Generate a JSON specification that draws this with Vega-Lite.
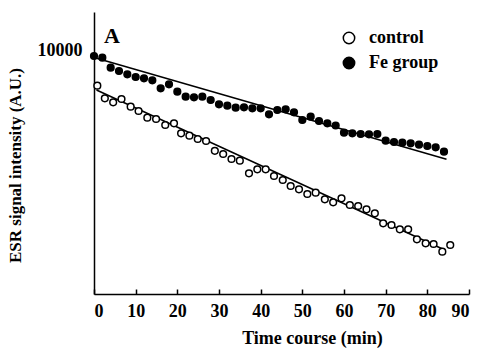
{
 "$schema": "https://vega.github.io/schema/vega-lite/v6.json",
 "width": 375, "height": 282,
 "autosize": {"type": "none"},
 "padding": {"left": 94, "top": 12, "right": 12, "bottom": 55},
 "background": "white",
 "config": {
  "view": {"stroke": null},
  "font": "Liberation Serif, Times New Roman, serif",
  "axis": {"domainColor": "black", "domainWidth": 1.5, "tickColor": "black", "tickWidth": 1.5,
           "labelFont": "Liberation Serif, Times New Roman, serif", "labelFontWeight": "bold", "labelColor": "black",
           "titleFont": "Liberation Serif, Times New Roman, serif", "titleFontWeight": "bold", "titleColor": "black", "grid": false}
 },
 "datasets": {
  "points": [
   {"series":"Fe group","t":0,"v":9752},{"series":"Fe group","t":2,"v":9704},{"series":"Fe group","t":4,"v":9420},{"series":"Fe group","t":6,"v":9326},{"series":"Fe group","t":8,"v":9233},{"series":"Fe group","t":10,"v":9156},{"series":"Fe group","t":12,"v":9119},{"series":"Fe group","t":14,"v":9062},{"series":"Fe group","t":16,"v":8835},{"series":"Fe group","t":18,"v":8949},{"series":"Fe group","t":20,"v":8739},{"series":"Fe group","t":22,"v":8597},{"series":"Fe group","t":24,"v":8580},{"series":"Fe group","t":26,"v":8597},{"series":"Fe group","t":28,"v":8504},{"series":"Fe group","t":30,"v":8382},{"series":"Fe group","t":32,"v":8342},{"series":"Fe group","t":34,"v":8285},{"series":"Fe group","t":36,"v":8296},{"series":"Fe group","t":38,"v":8268},{"series":"Fe group","t":40,"v":8268},{"series":"Fe group","t":42,"v":8098},{"series":"Fe group","t":44,"v":8220},{"series":"Fe group","t":46,"v":8240},{"series":"Fe group","t":48,"v":8155},{"series":"Fe group","t":50,"v":7936},{"series":"Fe group","t":52,"v":8030},{"series":"Fe group","t":54,"v":7908},{"series":"Fe group","t":56,"v":7842},{"series":"Fe group","t":58,"v":7780},{"series":"Fe group","t":60,"v":7576},{"series":"Fe group","t":62,"v":7559},{"series":"Fe group","t":64,"v":7539},{"series":"Fe group","t":66,"v":7530},{"series":"Fe group","t":68,"v":7539},{"series":"Fe group","t":70,"v":7349},{"series":"Fe group","t":72,"v":7312},{"series":"Fe group","t":74,"v":7292},{"series":"Fe group","t":76,"v":7275},{"series":"Fe group","t":78,"v":7235},{"series":"Fe group","t":80,"v":7199},{"series":"Fe group","t":82,"v":7162},{"series":"Fe group","t":84,"v":7037},
   {"series":"control","t":0.8,"v":8909},{"series":"control","t":2.6,"v":8552},{"series":"control","t":4.6,"v":8438},{"series":"control","t":6.6,"v":8532},{"series":"control","t":8.8,"v":8313},{"series":"control","t":10.7,"v":8191},{"series":"control","t":12.8,"v":8001},{"series":"control","t":14.9,"v":7965},{"series":"control","t":17.1,"v":7794},{"series":"control","t":19.2,"v":7842},{"series":"control","t":20.9,"v":7559},{"series":"control","t":22.9,"v":7491},{"series":"control","t":24.9,"v":7397},{"series":"control","t":26.9,"v":7340},{"series":"control","t":29,"v":7062},{"series":"control","t":31,"v":6972},{"series":"control","t":33,"v":6830},{"series":"control","t":35,"v":6782},{"series":"control","t":37.2,"v":6424},{"series":"control","t":39.2,"v":6538},{"series":"control","t":41.2,"v":6538},{"series":"control","t":43.2,"v":6347},{"series":"control","t":45.3,"v":6234},{"series":"control","t":47.2,"v":6064},{"series":"control","t":49.2,"v":5970},{"series":"control","t":51.2,"v":5837},{"series":"control","t":53.2,"v":5874},{"series":"control","t":55.4,"v":5687},{"series":"control","t":57.4,"v":5601},{"series":"control","t":59.4,"v":5715},{"series":"control","t":61.4,"v":5525},{"series":"control","t":63.4,"v":5496},{"series":"control","t":65.4,"v":5403},{"series":"control","t":67.4,"v":5289},{"series":"control","t":69.4,"v":5006},{"series":"control","t":71.4,"v":4957},{"series":"control","t":73.4,"v":4835},{"series":"control","t":75.4,"v":4835},{"series":"control","t":77.5,"v":4552},{"series":"control","t":79.6,"v":4438},{"series":"control","t":81.5,"v":4418},{"series":"control","t":83.6,"v":4200},{"series":"control","t":85.5,"v":4390}
  ],
  "fits": [
   {"series":"Fe group","t":0,"v":9709},{"series":"Fe group","t":84.6,"v":6821},
   {"series":"control","t":0.6,"v":8787},{"series":"control","t":84.2,"v":4248}
  ],
  "labels": [{"t":4.3,"v":10333,"text":"A"}]
 },
 "layer": [
  {
   "data": {"name": "fits"},
   "mark": {"type": "line", "color": "black", "strokeWidth": 1.5},
   "encoding": {
    "x": {"field": "t", "type": "quantitative", "scale": {"domain": [0, 90], "nice": false},
          "axis": {"values": [0,10,20,30,40,50,60,70,80,90], "tickSize": -5, "labelFontSize": 18, "labelPadding": 13,
                   "title": "Time course (min)", "titleFontSize": 18, "titleX": 218, "titleY": 44, "titleBaseline": "middle", "titleAnchor": "middle"}},
    "y": {"field": "v", "type": "quantitative", "scale": {"domain": [3000, 11000], "nice": false, "zero": false},
          "axis": {"values": [10000], "tickSize": 0, "labelPadding": 12, "labelOffset": 3, "labelFontSize": 18, "format": "d",
                   "title": "ESR signal intensity (A.U.)", "titleFontSize": 17, "titleX": -79, "titleY": 153, "titleBaseline": "middle", "titleAnchor": "middle"}},
    "detail": {"field": "series"}
   }
  },
  {
   "data": {"name": "points"},
   "mark": {"type": "point", "filled": true, "stroke": "black", "strokeWidth": 1.5, "size": 45, "opacity": 1},
   "encoding": {
    "x": {"field": "t", "type": "quantitative"},
    "y": {"field": "v", "type": "quantitative"},
    "fill": {"field": "series", "type": "nominal",
             "scale": {"domain": ["control", "Fe group"], "range": ["white", "black"]},
             "legend": {"title": null, "orient": "none", "legendX": 246, "legendY": 17, "symbolType": "circle",
                        "symbolSize": 130, "symbolStrokeColor": "black", "symbolStrokeWidth": 1.5, "symbolOpacity": 1,
                        "labelFont": "Liberation Serif, Times New Roman, serif", "labelFontWeight": "bold", "labelFontSize": 18, "labelColor": "black",
                        "rowPadding": 7, "labelOffset": 11}}
   }
  },
  {
   "data": {"name": "labels"},
   "mark": {"type": "text", "font": "Liberation Serif, Times New Roman, serif", "fontWeight": "bold", "fontSize": 22, "color": "black", "baseline": "middle", "align": "center"},
   "encoding": {
    "x": {"field": "t", "type": "quantitative"},
    "y": {"field": "v", "type": "quantitative"},
    "text": {"field": "text"}
   }
  }
 ]
}
